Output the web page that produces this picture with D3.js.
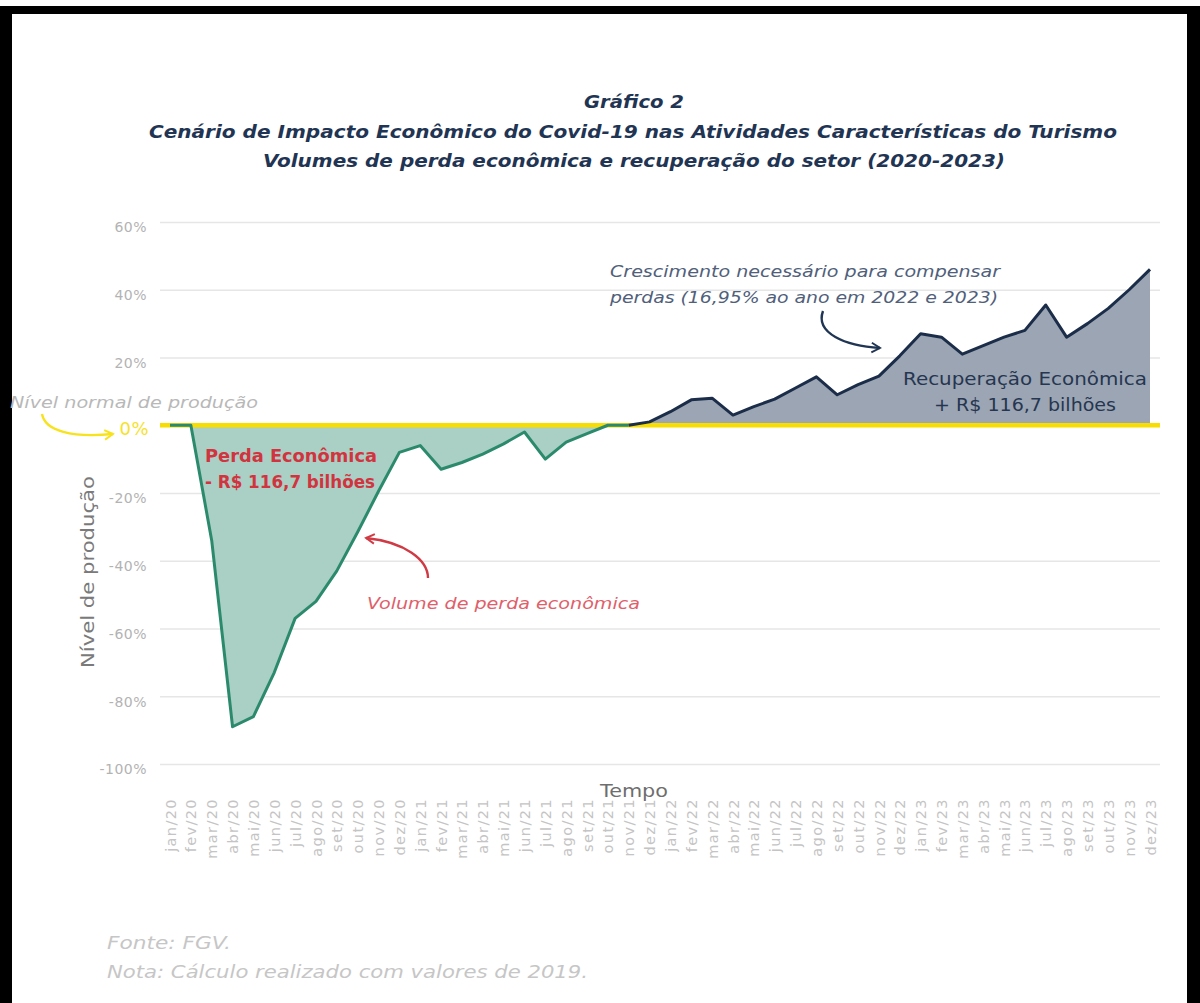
<!DOCTYPE html>
<html lang="pt">
<head>
<meta charset="utf-8" />
<title>Gráfico 2 - Impacto Econômico do Covid-19 no Turismo</title>
<script src="https://cdn.jsdelivr.net/npm/d3@7"></script>
<style>
  body { margin: 0; background: #fff; }
  svg { display: block; }
</style>
</head>
<body>
<script>
  // months on the x axis
  var months = ["jan/20","fev/20","mar/20","abr/20","mai/20","jun/20","jul/20","ago/20","set/20","out/20","nov/20","dez/20",
                "jan/21","fev/21","mar/21","abr/21","mai/21","jun/21","jul/21","ago/21","set/21","out/21","nov/21","dez/21",
                "jan/22","fev/22","mar/22","abr/22","mai/22","jun/22","jul/22","ago/22","set/22","out/22","nov/22","dez/22",
                "jan/23","fev/23","mar/23","abr/23","mai/23","jun/23","jul/23","ago/23","set/23","out/23","nov/23","dez/23"];

  // production level (%) - loss phase, jan/20 .. nov/21
  var perda = [0, 0, -34, -89, -86, -73, -57, -52, -43, -31.5, -19.5, -8,
               -6, -13, -11, -8.5, -5.5, -2, -10, -5, -2.5, 0, 0];

  // production level (%) - recovery phase, nov/21 .. dez/23
  var recup = [0, 1,
               4, 7.5, 8, 3, 5.5, 7.7, 11, 14.3, 9, 12, 14.5, 20.5,
               27, 26, 21, 23.5, 26, 28, 35.5, 26, 30, 34.5, 40, 46];

  var yTicks = [60, 40, 20, 0, -20, -40, -60, -80, -100];

  var W = 1200, H = 1003;
  var font = "'DejaVu Sans', sans-serif";

  var svg = d3.select("body").append("svg")
      .attr("width", W)
      .attr("height", H);

  // frame
  svg.append("rect").attr("x", 0).attr("y", 0).attr("width", W).attr("height", H).attr("fill", "#fff");
  svg.append("rect").attr("x", 0).attr("y", 6).attr("width", W).attr("height", 8).attr("fill", "#000");
  svg.append("rect").attr("x", 0).attr("y", 6).attr("width", 12).attr("height", H).attr("fill", "#000");
  svg.append("rect").attr("x", 1187).attr("y", 6).attr("width", 13).attr("height", H).attr("fill", "#000");

  // helper for text stretched to the width seen in the original
  function txt(g, xp, yp, s, len) {
    var t = g.append("text").attr("x", xp).attr("y", yp).text(s);
    if (len) t.attr("textLength", len).attr("lengthAdjust", "spacingAndGlyphs");
    return t;
  }

  // title
  var title = svg.append("g")
      .attr("font-family", font)
      .attr("font-weight", "bold")
      .attr("font-style", "italic")
      .attr("font-size", 17.5)
      .attr("fill", "#1f3553")
      .attr("text-anchor", "middle");
  txt(title, 634, 108, "Gráfico 2", 100);
  txt(title, 633, 138, "Cenário de Impacto Econômico do Covid-19 nas Atividades Características do Turismo", 968);
  txt(title, 634, 167, "Volumes de perda econômica e recuperação do setor (2020-2023)", 742);

  // scales
  var x = d3.scalePoint().domain(months).range([170, 1150]);
  var y = d3.scaleLinear().domain([-100, 60]).range([764, 222]);

  // grid + y labels
  var yAxis = svg.append("g")
      .attr("transform", "translate(160,0)")
      .call(d3.axisLeft(y).tickValues(yTicks).tickSize(-1000).tickFormat(function(d){ return d + "%"; }));
  yAxis.select(".domain").remove();
  yAxis.selectAll(".tick line").attr("stroke", "#e6e6e6").attr("stroke-width", 1.3);
  yAxis.selectAll(".tick text")
      .attr("x", -13)
      .attr("dy", "0.7em")
      .attr("font-family", font)
      .attr("font-size", 14)
      .attr("letter-spacing", 0.5)
      .attr("fill", "#b3b3b3");
  yAxis.selectAll(".tick").filter(function(d){ return d === 0; }).select("line").remove();
  yAxis.selectAll(".tick").filter(function(d){ return d === 0; }).select("text")
      .attr("font-size", 18)
      .attr("dy", "0.5em")
      .attr("x", -11)
      .attr("fill", "#f6e22a");

  // x labels
  var xAxis = svg.append("g")
      .attr("transform", "translate(0,798)")
      .call(d3.axisBottom(x).tickSize(0));
  xAxis.select(".domain").remove();
  xAxis.selectAll(".tick text")
      .attr("transform", "rotate(-90)")
      .attr("text-anchor", "end")
      .attr("x", 0)
      .attr("y", 0)
      .attr("dy", "0.35em")
      .attr("font-family", font)
      .attr("font-size", 14.5)
      .attr("letter-spacing", 1.4)
      .attr("fill", "#c4c4c4");

  // areas
  var perdaMonths = months.slice(0, perda.length);
  var recupMonths = months.slice(months.length - recup.length);

  var area = d3.area()
      .x(function(d){ return x(d[0]); })
      .y0(y(0))
      .y1(function(d){ return y(d[1]); });
  var line = d3.line()
      .x(function(d){ return x(d[0]); })
      .y(function(d){ return y(d[1]); });

  var perdaData = d3.zip(perdaMonths, perda);
  var recupData = d3.zip(recupMonths, recup);

  svg.append("path").datum(perdaData).attr("d", area).attr("fill", "#aacfc5");
  svg.append("path").datum(recupData).attr("d", area).attr("fill", "#9ba5b3");

  // zero line
  svg.append("line")
      .attr("x1", 160).attr("x2", 1160)
      .attr("y1", y(0)).attr("y2", y(0))
      .attr("stroke", "#f7dd00")
      .attr("stroke-width", 4.5);

  svg.append("path").datum(perdaData).attr("d", line)
      .attr("fill", "none").attr("stroke", "#2b8a6c").attr("stroke-width", 3).attr("stroke-linejoin", "round");
  svg.append("path").datum(recupData).attr("d", line)
      .attr("fill", "none").attr("stroke", "#1b2d48").attr("stroke-width", 3).attr("stroke-linejoin", "round");

  // axis titles
  var yTitle = svg.append("g")
      .attr("transform", "translate(94,572) rotate(-90)")
      .attr("text-anchor", "middle")
      .attr("font-family", font)
      .attr("font-size", 17)
      .attr("fill", "#7a7a7a");
  txt(yTitle, 0, 0, "Nível de produção", 192);
  var xTitle = svg.append("g")
      .attr("text-anchor", "middle")
      .attr("font-family", font)
      .attr("font-size", 17)
      .attr("fill", "#6e6e6e");
  txt(xTitle, 634, 797, "Tempo", 68);

  // arrow markers
  var defs = svg.append("defs");
  function marker(id, color) {
    defs.append("marker")
        .attr("id", id)
        .attr("viewBox", "0 0 10 10")
        .attr("refX", 8).attr("refY", 5)
        .attr("markerWidth", 5).attr("markerHeight", 5)
        .attr("markerUnits", "strokeWidth")
        .attr("orient", "auto")
      .append("path")
        .attr("d", "M1,1 L8,5 L1,9")
        .attr("fill", "none")
        .attr("stroke", color)
        .attr("stroke-width", 1.6);
  }
  marker("arrY", "#f7e21c");
  marker("arrR", "#cf3a44");
  marker("arrN", "#1f3553");

  // annotations
  var normal = svg.append("g")
      .attr("font-family", font).attr("font-style", "italic")
      .attr("font-size", 16).attr("fill", "#b8b8b8");
  txt(normal, 10, 408, "Nível normal de produção", 248);
  svg.append("path")
      .attr("d", "M42,414 C45,431 72,438 113,434")
      .attr("fill", "none").attr("stroke", "#f7e21c").attr("stroke-width", 2.4)
      .attr("marker-end", "url(#arrY)");

  var red = svg.append("g").attr("font-family", font).attr("font-weight", "bold")
      .attr("font-size", 17).attr("fill", "#d1343e");
  txt(red, 205, 462, "Perda Econômica", 172);
  txt(red, 205, 488, "- R$ 116,7 bilhões", 170);

  var vol = svg.append("g")
      .attr("font-family", font).attr("font-style", "italic")
      .attr("font-size", 16).attr("fill", "#e0606a");
  txt(vol, 367, 609, "Volume de perda econômica", 273);
  svg.append("path")
      .attr("d", "M428,578 C428,560 405,542 366,538")
      .attr("fill", "none").attr("stroke", "#cf3a44").attr("stroke-width", 2.4)
      .attr("marker-end", "url(#arrR)");

  var grow = svg.append("g").attr("font-family", font).attr("font-style", "italic")
      .attr("font-size", 16).attr("fill", "#50607a");
  txt(grow, 610, 277, "Crescimento necessário para compensar", 390);
  txt(grow, 610, 303, "perdas (16,95% ao ano em 2022 e 2023)", 388);
  svg.append("path")
      .attr("d", "M823,311 C815,333 845,346 880,348")
      .attr("fill", "none").attr("stroke", "#1f3553").attr("stroke-width", 2.4)
      .attr("marker-end", "url(#arrN)");

  var rec = svg.append("g").attr("font-family", font)
      .attr("font-size", 17).attr("fill", "#263650").attr("text-anchor", "middle");
  txt(rec, 1025, 385, "Recuperação Econômica", 244);
  txt(rec, 1025, 411, "+ R$ 116,7 bilhões", 182);

  // footer
  var foot = svg.append("g").attr("font-family", font).attr("font-style", "italic")
      .attr("font-size", 18).attr("fill", "#c6c6c6");
  txt(foot, 107, 949, "Fonte: FGV.", 124);
  txt(foot, 107, 978, "Nota: Cálculo realizado com valores de 2019.", 481);
</script>
</body>
</html>
